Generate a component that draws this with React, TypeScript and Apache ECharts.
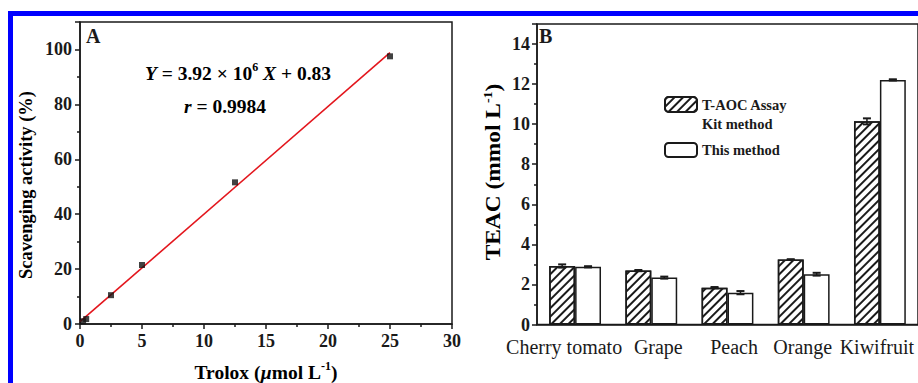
import React, { useEffect, useRef } from 'react';
import * as echarts from 'echarts';

// Panel A: calibration data
const trolox = [0.25, 0.5, 2.5, 5, 12.5, 25];
const scavenging = [1.0, 1.8, 10.5, 21.5, 51.6, 97.5];
const fitX = [0, 25];
const fitY = [0.83, 98.83];

// Panel B: TEAC of fruits
const fruits = ['Cherry tomato', 'Grape', 'Peach', 'Orange', 'Kiwifruit'];
const kitValues = [2.92, 2.69, 1.84, 3.24, 10.14];
const kitErrors = [0.08, 0.03, 0.03, 0.02, 0.15];
const thisValues = [2.88, 2.34, 1.59, 2.51, 12.21];
const thisErrors = [0.03, 0.05, 0.08, 0.07, 0.03];

const SERIF = '"Liberation Serif", "Times New Roman", serif';
const INK = '#1a1a1a';

function errorBars(values: number[], errors: number[], sign: number) {
  return {
    type: 'custom',
    xAxisIndex: 1,
    yAxisIndex: 1,
    silent: true,
    z: 10,
    data: values.map((v, i) => [i, v, errors[i]]),
    renderItem: (params: any, api: any) => {
      const idx = api.value(0);
      const v = api.value(1);
      const e = api.value(2);
      const band = api.size([1, 0])[0];
      const off = sign * band * 0.17;
      const top = api.coord([idx, v + e]);
      const bot = api.coord([idx, v - e]);
      const x = top[0] + off;
      const cap = 4;
      const st = { stroke: INK, lineWidth: 1.5 };
      return {
        type: 'group',
        children: [
          { type: 'line', shape: { x1: x, y1: top[1], x2: x, y2: bot[1] }, style: st },
          { type: 'line', shape: { x1: x - cap, y1: top[1], x2: x + cap, y2: top[1] }, style: { stroke: INK, lineWidth: 2 } },
          { type: 'line', shape: { x1: x - cap, y1: bot[1], x2: x + cap, y2: bot[1] }, style: { stroke: INK, lineWidth: 2 } },
        ],
      };
    },
  };
}

export default function App() {
  const ref = useRef<HTMLDivElement>(null);

  useEffect(() => {
    if (!ref.current) return;
    const chart = echarts.init(ref.current, null, { renderer: 'svg' });

    const tickLabel = { fontFamily: SERIF, fontWeight: 'bold', fontSize: 18, color: INK };
    const axisLine = { show: true, lineStyle: { color: INK, width: 1.5 } };

    const hatch = {
      symbol: 'rect',
      symbolSize: 1,
      dashArrayX: [1, 0],
      dashArrayY: [1.5, 3.8],
      rotation: -Math.PI / 4,
      color: INK,
      backgroundColor: '#fff',
    };

    const richBase = { fontFamily: SERIF, fontWeight: 'bold', fontSize: 19.5, color: INK, lineHeight: 24 };
    const richSup = { fontFamily: SERIF, fontWeight: 'bold', fontSize: 12, color: INK, verticalAlign: 'top', lineHeight: 24 };
    const richIt = { ...richBase, fontStyle: 'italic' };

    const option: any = {
      animation: false,
      backgroundColor: '#fff',
      grid: [
        { left: 80, top: 22, width: 372, height: 302, show: true, borderColor: INK, borderWidth: 1.5, backgroundColor: 'transparent', containLabel: false, outerBoundsMode: 'none' },
        { left: 537, top: 24, width: 381, height: 300.5, show: true, borderColor: INK, borderWidth: 1.5, backgroundColor: 'transparent', containLabel: false, outerBoundsMode: 'none' },
      ],
      xAxis: [
        {
          type: 'value', gridIndex: 0, min: 0, max: 30, interval: 5,
          axisLine, splitLine: { show: false },
          axisTick: { show: true, inside: false, length: 5, lineStyle: { color: INK, width: 1.5 } },
          minorTick: { show: true, splitNumber: 2, length: 3, lineStyle: { color: INK, width: 1.5 } },
          axisLabel: { ...tickLabel, margin: 8 },
        },
        {
          type: 'category', gridIndex: 1, data: [
            { value: fruits[0], textStyle: { padding: [0, 22, 0, 0] } },
            { value: fruits[1], textStyle: { padding: [0, 0, 0, 14] } },
            { value: fruits[2], textStyle: { padding: [0, 0, 0, 13] } },
            { value: fruits[3], textStyle: { padding: [0, 2, 0, 0] } },
            { value: fruits[4], textStyle: { padding: [0, 6, 0, 0] } },
          ],
          axisLine, axisTick: { show: false }, splitLine: { show: false },
          axisLabel: { fontFamily: SERIF, fontSize: 20, color: INK, margin: 12, interval: 0, hideOverlap: false },
        },
      ],
      yAxis: [
        {
          type: 'value', gridIndex: 0, min: 0, max: 110, interval: 20,
          axisLine, splitLine: { show: false },
          axisTick: { show: true, inside: false, length: 5, lineStyle: { color: INK, width: 1.5 } },
          minorTick: { show: true, splitNumber: 2, length: 3, lineStyle: { color: INK, width: 1.5 } },
          axisLabel: { ...tickLabel, margin: 8, showMaxLabel: false, formatter: (v: number) => (v > 100 ? '' : String(v)) },
        },
        {
          type: 'value', gridIndex: 1, min: 0, max: 15, interval: 2,
          axisLine, splitLine: { show: false },
          axisTick: { show: true, inside: false, length: 5, lineStyle: { color: INK, width: 1.5 } },
          minorTick: { show: true, splitNumber: 2, length: 3, lineStyle: { color: INK, width: 1.5 } },
          axisLabel: { ...tickLabel, margin: 7, showMaxLabel: false, formatter: (v: number) => (v > 14 ? '' : String(v)) },
        },
      ],
      legend: [
        {
          data: ['T-AOC Assay Kit method'], orient: 'vertical', left: 664, top: 76,
          itemWidth: 32, itemHeight: 15, padding: 0,
          formatter: () => '\u00a0\nT-AOC Assay\nKit method',
          textStyle: { fontFamily: SERIF, fontWeight: 'bold', fontSize: 14.5, color: INK, lineHeight: 19 },
        },
        {
          data: ['This method'], orient: 'vertical', left: 664, top: 142,
          itemWidth: 32, itemHeight: 14, padding: 0,
          textStyle: { fontFamily: SERIF, fontWeight: 'bold', fontSize: 14.5, color: INK },
        },
      ],
      series: [
        {
          type: 'line', xAxisIndex: 0, yAxisIndex: 0, data: fitX.map((x, i) => [x, fitY[i]]),
          symbol: 'none', lineStyle: { color: '#e3161d', width: 1.6 }, z: 2,
        },
        {
          type: 'scatter', xAxisIndex: 0, yAxisIndex: 0, data: trolox.map((x, i) => [x, scavenging[i]]),
          symbol: 'rect', symbolSize: 6, itemStyle: { color: '#111' }, z: 3,
        },
        {
          type: 'bar', name: 'T-AOC Assay Kit method', xAxisIndex: 1, yAxisIndex: 1, data: kitValues,
          barWidth: '34%', barGap: '0%',
          itemStyle: { color: '#fff', borderColor: INK, borderWidth: 1.5, decal: hatch },
        },
        {
          type: 'bar', name: 'This method', xAxisIndex: 1, yAxisIndex: 1, data: thisValues,
          barWidth: '34%', barGap: '0%',
          itemStyle: { color: '#fff', borderColor: INK, borderWidth: 1.5 },
        },
        errorBars(kitValues, kitErrors, -1),
        errorBars(thisValues, thisErrors, 1),
      ],
      graphic: [
        { type: 'rect', shape: { x: 8, y: 11, width: 910, height: 5 }, style: { fill: '#0000ff' }, silent: true },
        { type: 'rect', shape: { x: 8, y: 11, width: 5, height: 372 }, style: { fill: '#0000ff' }, silent: true },
        { type: 'text', left: 86, top: 26, style: { text: 'A', font: `bold 20px ${SERIF}`, fill: INK } },
        { type: 'text', left: 539, top: 26, style: { text: 'B', font: `bold 20px ${SERIF}`, fill: INK } },
        {
          type: 'text', x: 238, y: 73,
          style: {
            text: '{i|Y}{b| = 3.92 × 10}{s|6}{b| }{i|X}{b| + 0.83}',
            rich: { b: richBase, i: richIt, s: richSup },
            align: 'center', verticalAlign: 'middle',
          },
        },
        {
          type: 'text', x: 225, y: 106,
          style: {
            text: '{i|r}{b| = 0.9984}',
            rich: { b: richBase, i: richIt },
            align: 'center', verticalAlign: 'middle',
          },
        },
        {
          type: 'text', x: 266, y: 372,
          style: {
            text: '{b|Trolox (}{i|µ}{b|mol L}{s|-1}{b|)}',
            rich: { b: richBase, i: richIt, s: richSup },
            align: 'center', verticalAlign: 'middle',
          },
        },
        {
          type: 'text', x: 26, y: 185, rotation: Math.PI / 2,
          style: {
            text: '{b|Scavenging activity (%)}',
            rich: { b: { ...richBase, fontSize: 18.5 } },
            align: 'center', verticalAlign: 'middle',
          },
        },
        {
          type: 'text', x: 494, y: 172, rotation: Math.PI / 2, scaleX: 1.17,
          style: {
            text: '{b|TEAC (mmol L}{s|-1}{b|)}',
            rich: { b: { ...richBase, fontSize: 20 }, s: richSup },
            align: 'center', verticalAlign: 'middle',
          },
        },
      ],
    };

    chart.setOption(option);
    return () => chart.dispose();
  }, []);

  return (
    <div
      ref={ref}
      style={{ position: 'absolute', left: 0, top: 0, width: 918, height: 383, background: '#fff' }}
    />
  );
}
